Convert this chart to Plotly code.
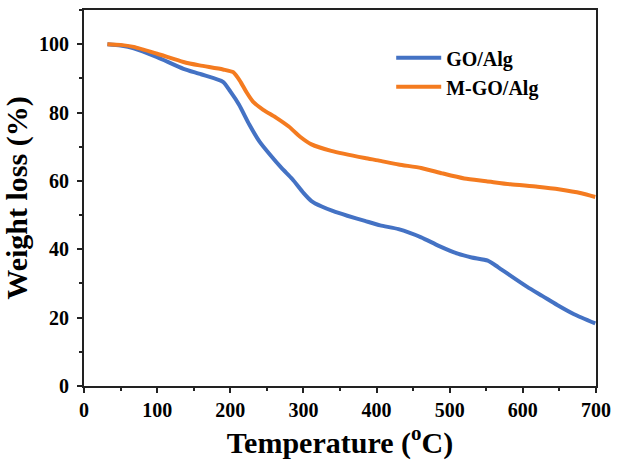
import plotly.graph_objects as go

temp_go = [32, 50, 68, 100, 136, 160, 190, 200, 212, 226, 240, 255, 270, 285, 300, 311, 325, 340, 360, 384, 405, 430, 461, 485, 511, 530, 552, 566, 585, 606, 627, 647, 670, 699]
wt_go = [100, 99.6, 98.8, 96.2, 92.8, 91.2, 89.0, 86.2, 82.3, 76.5, 71.5, 67.5, 63.8, 60.5, 56.5, 54.1, 52.5, 51.2, 49.8, 48.3, 47.0, 45.9, 43.5, 41.0, 38.7, 37.6, 36.7, 34.8, 32.0, 29.0, 26.3, 23.7, 21.0, 18.3]

temp_mgo = [32, 50, 68, 100, 136, 158, 190, 204, 214, 222, 231, 245, 262, 280, 295, 311, 338, 384, 402, 430, 461, 490, 520, 550, 583, 620, 651, 680, 699]
wt_mgo = [100, 99.8, 99.2, 97.2, 94.8, 93.8, 92.6, 91.8, 89.0, 86.0, 83.2, 80.8, 78.6, 75.9, 73.0, 70.7, 68.8, 66.7, 66.0, 64.8, 63.8, 62.2, 60.7, 59.9, 59.0, 58.3, 57.5, 56.4, 55.3]

x_ticks = [0, 100, 200, 300, 400, 500, 600, 700]
y_ticks = [0, 20, 40, 60, 80, 100]

font_family = "Liberation Serif, Times New Roman, serif"

fig = go.Figure()
fig.add_trace(go.Scatter(x=temp_go, y=wt_go, mode="lines", name="GO/Alg",
                         line=dict(color="#4472C4", width=4, shape="spline", smoothing=0.6)))
fig.add_trace(go.Scatter(x=temp_mgo, y=wt_mgo, mode="lines", name="M-GO/Alg",
                         line=dict(color="#F47B20", width=4, shape="spline", smoothing=0.6)))

axis_common = dict(
    showline=True, linecolor="#222", linewidth=2, mirror=True,
    ticks="outside", ticklen=5, tickwidth=1.5, tickcolor="#222",
    showgrid=False, zeroline=False,
    tickfont=dict(family=font_family, size=20, color="black", weight="bold"),
)

fig.update_xaxes(range=[0, 700], tickvals=x_ticks,
                 minor=dict(dtick=50, ticks="outside", ticklen=3, tickwidth=1.5, tickcolor="#222"),
                 title=dict(text="Temperature (<sup>o</sup>C)", font=dict(family=font_family, size=30, color="black", weight="bold"), standoff=6),
                 **axis_common)
fig.update_yaxes(range=[0, 110], tickvals=y_ticks,
                 minor=dict(dtick=10, ticks="outside", ticklen=3, tickwidth=1.5, tickcolor="#222"),
                 title=dict(text="Weight loss (%)", font=dict(family=font_family, size=30, color="black", weight="bold"), standoff=8),
                 ticklabelstandoff=4,
                 **axis_common)

fig.update_layout(
    width=619, height=466,
    margin=dict(l=84, r=20, t=8, b=80),
    plot_bgcolor="white", paper_bgcolor="white",
    font=dict(family=font_family),
    legend=dict(x=0.6, y=0.925, xanchor="left", yanchor="top",
                font=dict(family=font_family, size=20, color="black", weight="bold"),
                bgcolor="rgba(0,0,0,0)", itemwidth=45, tracegroupgap=0),
    showlegend=True,
)

fig.write_html("out.html")
